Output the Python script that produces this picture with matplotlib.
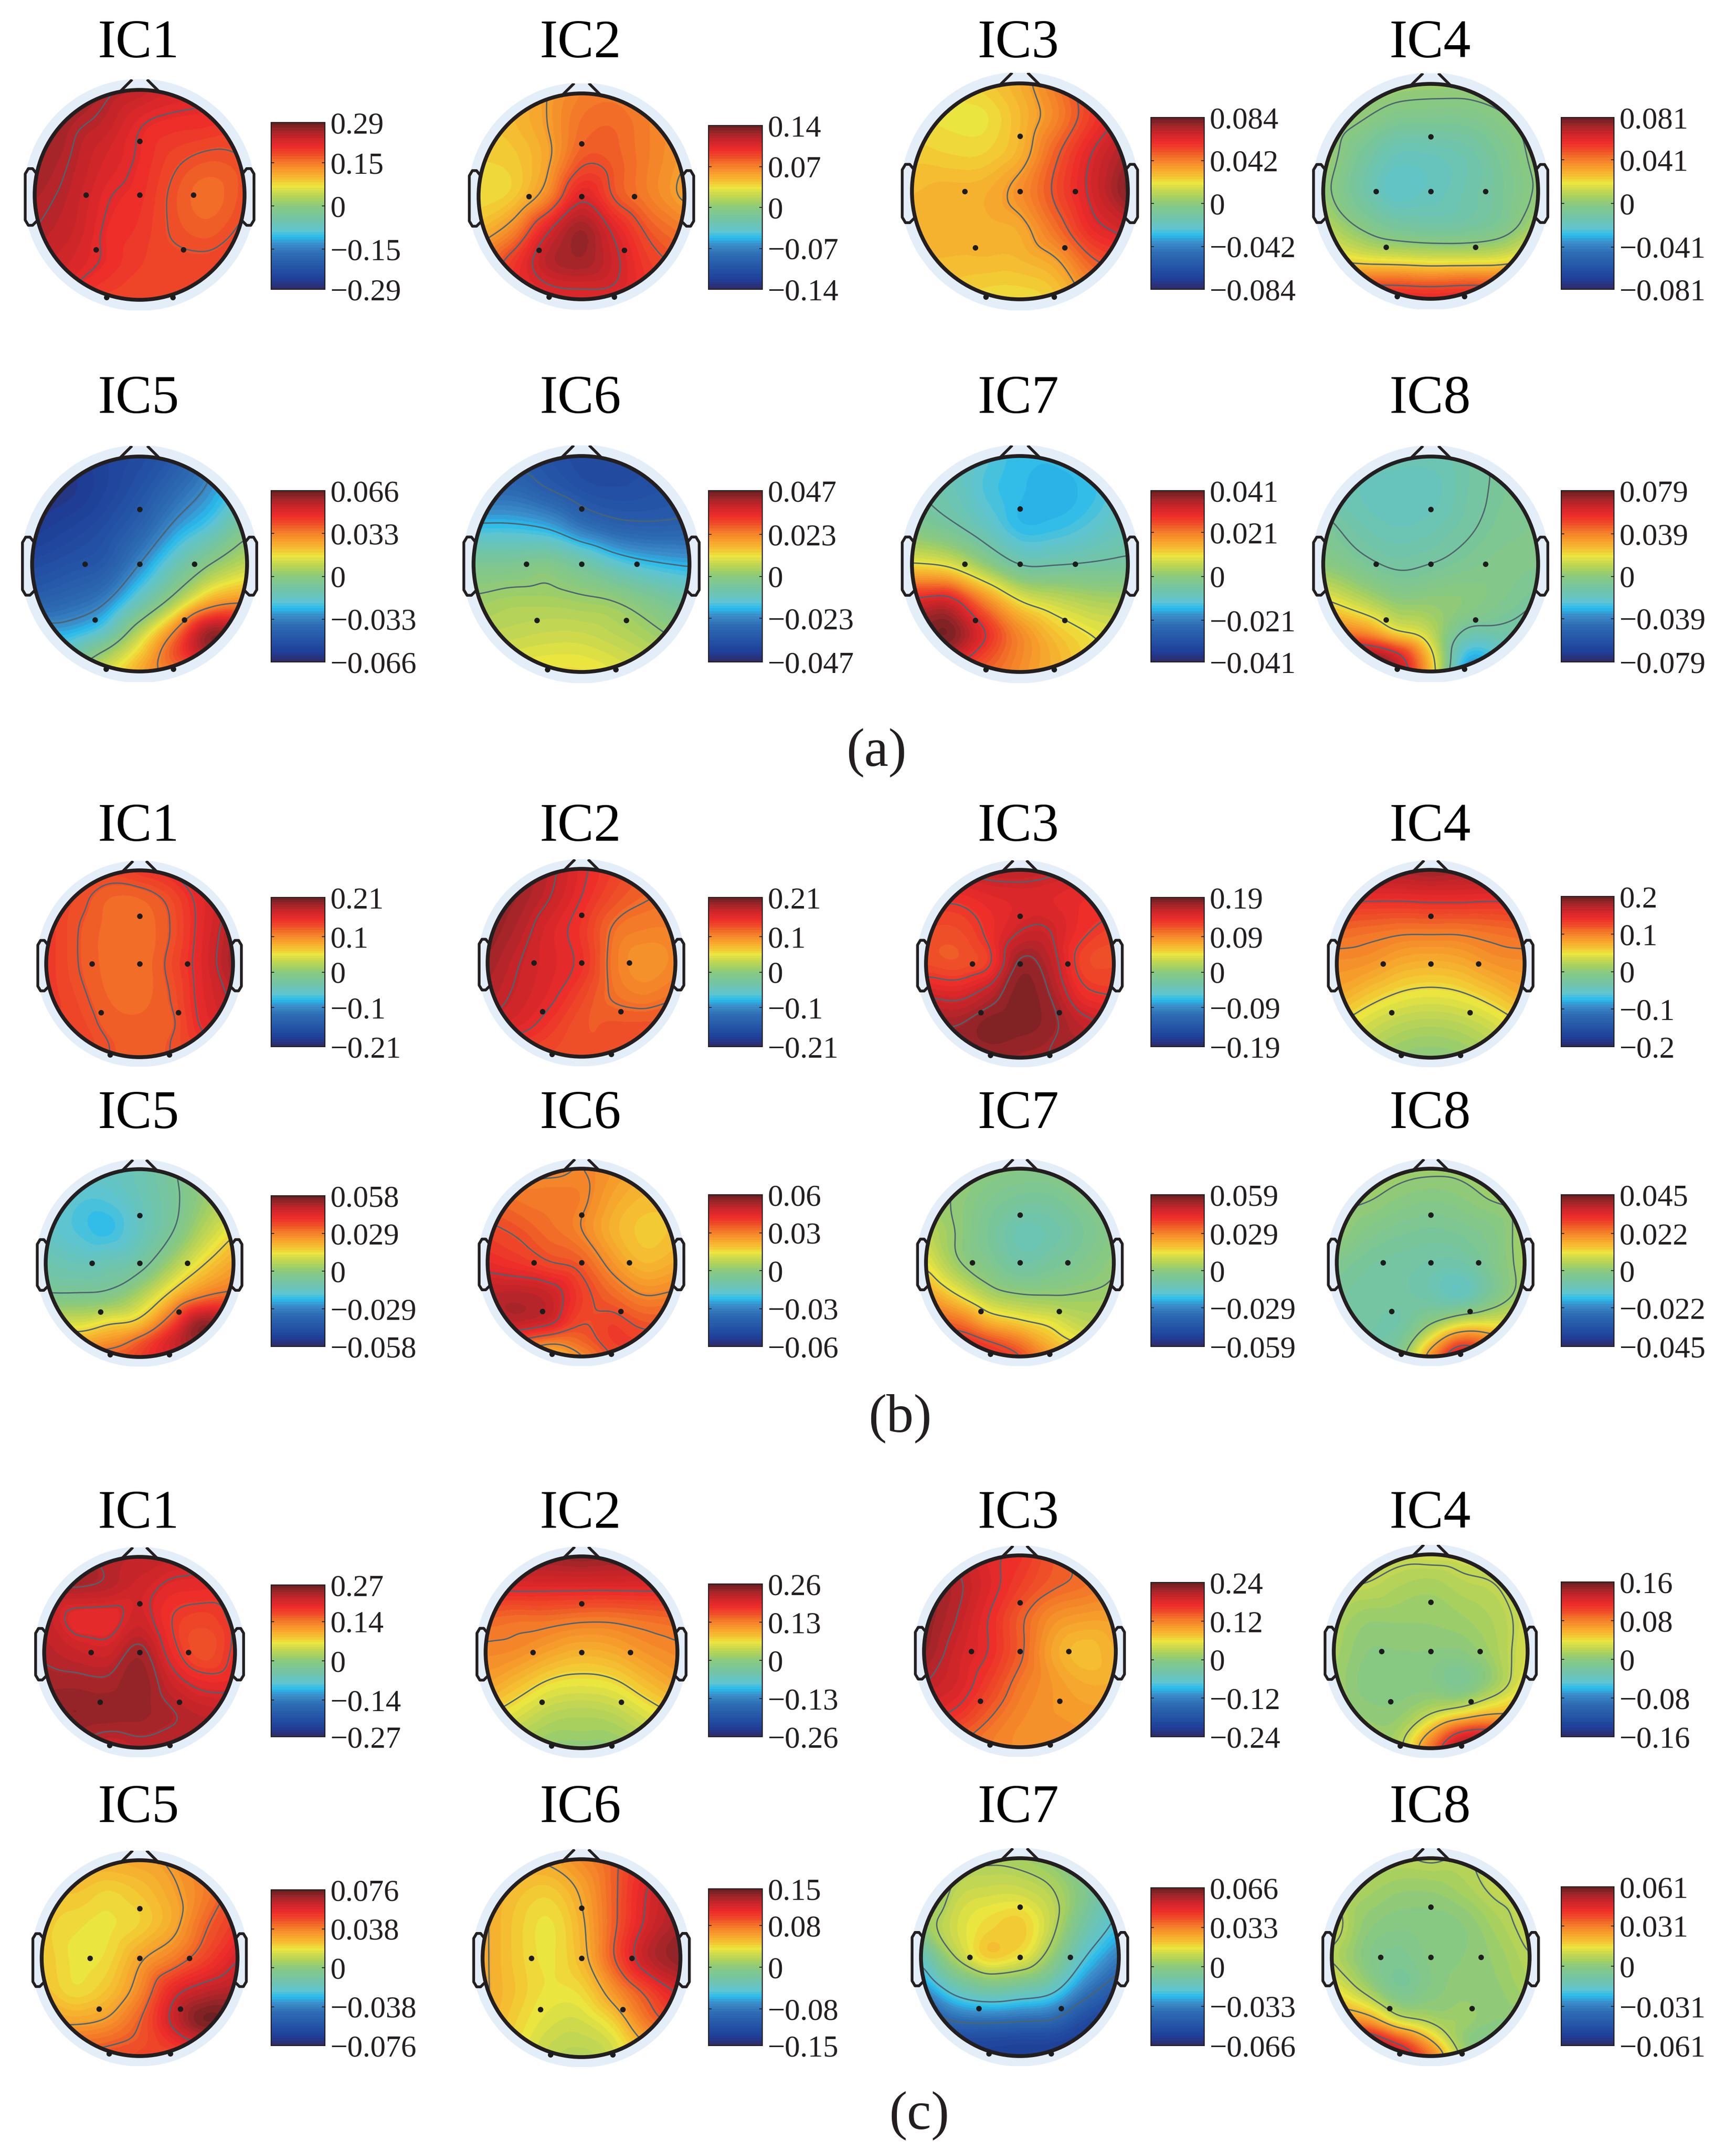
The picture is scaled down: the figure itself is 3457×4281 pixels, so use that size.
import numpy as np
import matplotlib
matplotlib.use('Agg')
import matplotlib.pyplot as plt
import matplotlib.tri as mtri
from matplotlib.cm import ScalarMappable
from matplotlib.colors import LinearSegmentedColormap, Normalize
from matplotlib.patches import Circle

plt.rcParams['font.family'] = ['Liberation Serif', 'DejaVu Serif']

# field samples, % of each panel's colorbar limit, rows top to bottom
grid_x = [-1, -0.66, -0.33, 0, 0.33, 0.66, 1]
grid_y = [1, 0.7, 0.35, 0, -0.35, -0.65, -0.85, -1]

a_ic1 = [[92,92,88,84,78,74,72],[92,88,84,74,71,70,68],[90,86,78,72,64,60,62],[88,84,74,70,60,54,61],
         [86,82,72,68,61,58,64],[84,78,72,66,64,64,66],[80,74,68,64,64,66,68],[78,70,64,63,64,66,68]]
a_ic2 = [[30,35,42,50,52,50,46],[30,34,42,54,56,50,44],[28,30,40,60,58,50,42],[26,30,48,76,60,50,40],
         [35,50,78,92,76,60,52],[50,68,86,90,80,66,60],[55,70,78,80,78,68,62],[60,66,72,74,74,68,62]]
a_ic3 = [[25,24,30,38,52,68,80],[26,24,24,34,48,66,80],[30,28,28,36,58,76,90],[34,36,37,46,62,78,96],
         [36,36,36,38,54,72,80],[34,34,34,34,40,58,66],[32,31,29,29,33,50,56],[30,29,26,25,30,45,50]]
a_ic4 = [[5,6,6,5,5,6,6],[8,2,-5,-6,-6,-1,6],[8,-10,-22,-22,-18,-8,4],[4,-14,-28,-24,-18,-10,2],
         [14,0,-10,-13,-12,-6,10],[30,26,24,22,22,24,34],[60,60,60,58,60,60,66],[75,75,74,74,74,75,75]]
a_ic5 = [[-90,-88,-85,-80,-70,-50,-30],[-95,-92,-85,-75,-60,-45,-25],[-90,-85,-78,-65,-45,-30,-5],[-80,-75,-70,-48,-22,0,14],
         [-65,-60,-50,-22,8,38,46],[-35,-38,-24,14,52,95,80],[-15,-20,6,30,62,85,72],[0,5,20,40,50,60,60]]
a_ic6 = [[-70,-72,-75,-80,-80,-78,-72],[-60,-60,-68,-76,-78,-76,-72],[-36,-36,-40,-55,-64,-66,-65],[-8,-8,-4,-14,-28,-36,-40],
         [5,8,8,6,3,-6,-15],[12,14,16,16,12,6,-2],[18,20,22,22,18,12,4],[22,24,26,26,22,16,8]]
a_ic7 = [[-22,-22,-30,-36,-37,-32,-25],[-15,-20,-32,-37,-38,-36,-26],[-5,-12,-24,-37,-36,-30,-22],[25,20,2,-16,-16,-14,-12],
         [76,80,50,25,16,10,8],[88,98,74,48,32,24,20],[75,84,64,48,36,26,22],[60,62,56,46,36,28,24]]
a_ic8 = [[-16,-18,-20,-20,-16,-10,-8],[-18,-22,-24,-24,-16,-10,-6],[-8,-18,-22,-20,-14,-8,-6],[0,-8,-14,-12,-8,-5,-6],
         [26,14,2,2,0,-6,-12],[55,50,28,14,-16,-16,-20],[85,95,80,30,-36,-30,-25],[90,100,90,35,-50,-40,-30]]

b_ic1 = [[62,62,64,68,72,76,82],[66,62,56,56,62,74,84],[68,60,55,54,60,74,88],[68,60,55,54,62,75,90],
         [68,62,56,55,60,74,84],[66,64,58,57,58,72,80],[66,66,60,58,60,68,76],[64,64,60,58,60,66,74]]
b_ic2 = [[94,90,84,74,66,60,58],[96,90,82,72,62,56,54],[94,86,76,68,54,50,50],[90,82,76,70,52,44,48],
         [86,80,74,64,54,50,54],[80,76,68,60,60,60,60],[72,68,64,60,60,62,60],[66,64,62,60,60,60,60]]
b_ic3 = [[84,84,84,84,82,78,76],[70,70,74,76,75,72,72],[62,62,70,80,80,70,64],[62,60,66,92,85,64,62],
         [80,78,86,96,90,72,68],[90,90,96,96,92,84,78],[90,92,94,92,90,88,84],[88,88,90,90,90,88,84]]
b_ic4 = [[88,90,90,92,90,90,88],[72,72,72,73,73,72,72],[56,54,52,52,52,54,56],[46,44,38,36,38,44,46],
         [38,30,24,22,24,30,38],[26,18,12,10,12,18,26],[22,12,6,4,6,12,22],[18,8,2,0,2,8,18]]
b_ic5 = [[-20,-22,-24,-20,-10,0,8],[-24,-30,-30,-22,-12,2,14],[-26,-32,-36,-24,-10,10,26],[-18,-22,-20,-14,6,26,40],
         [-6,-6,-4,10,32,50,56],[22,20,28,34,62,95,80],[45,40,46,60,80,90,78],[60,58,60,66,75,80,75]]
b_ic6 = [[48,46,46,48,44,40,40],[56,52,52,50,40,34,34],[64,60,54,48,36,30,32],[72,68,62,58,44,34,38],
         [85,86,82,66,56,48,50],[78,84,78,62,66,60,58],[66,58,50,56,66,66,64],[60,42,30,46,62,64,64]]
b_ic7 = [[5,2,0,-2,-2,0,4],[6,2,-6,-10,-10,-4,2],[14,2,-10,-20,-18,-10,-2],[24,4,-6,-16,-12,-6,2],
         [42,26,10,4,3,4,6],[55,56,38,30,24,14,10],[65,72,64,52,34,24,14],[70,76,72,64,44,30,20]]
b_ic8 = [[6,6,6,5,5,4,4],[6,4,0,-2,0,4,6],[4,-4,-8,-10,-8,-4,8],[-6,-12,-14,-16,-16,-6,8],
         [-12,-14,-15,-18,-24,-8,8],[-14,-15,-16,2,20,22,16],[-14,-16,-10,30,62,50,30],[-14,-15,-4,48,85,60,35]]

c_ic1 = [[88,88,86,84,82,78,76],[88,88,86,80,74,73,72],[84,72,72,80,68,64,70],[86,82,80,90,72,60,70],
         [90,90,89,94,82,74,74],[92,94,94,92,88,84,82],[90,90,86,88,86,88,86],[88,86,80,84,84,86,86]]
c_ic2 = [[88,90,92,94,92,90,88],[76,76,76,76,76,76,76],[56,54,54,52,52,54,56],[48,46,40,36,38,44,48],
         [40,32,24,22,24,32,40],[28,20,12,10,12,20,28],[22,12,6,6,6,12,22],[18,8,2,0,2,8,18]]
c_ic3 = [[88,80,74,70,60,52,48],[94,86,76,66,58,54,50],[94,84,72,58,46,42,42],[92,80,72,58,40,32,38],
         [84,78,66,52,44,38,38],[76,70,58,48,44,42,42],[66,60,52,46,46,44,44],[60,56,50,46,46,46,46]]
c_ic4 = [[15,16,17,18,18,18,20],[16,14,10,8,12,14,20],[10,4,4,4,6,10,18],[8,0,0,0,0,8,20],
         [6,-2,-2,-2,-8,6,24],[8,2,2,14,26,36,36],[10,6,8,40,72,74,50],[10,6,10,55,95,90,60]]
c_ic5 = [[36,36,38,40,44,50,58],[32,32,28,32,40,50,62],[30,26,24,28,38,56,68],[32,24,26,40,50,64,78],
         [34,26,32,48,74,84,88],[44,40,44,58,80,98,92],[50,54,56,60,70,80,76],[56,60,62,64,62,70,70]]
c_ic6 = [[40,36,40,48,58,68,76],[40,33,30,40,58,76,86],[40,30,24,36,58,78,90],[40,30,24,34,60,84,94],
         [40,31,24,26,44,62,78],[40,28,20,18,28,52,66],[36,26,16,14,20,40,54],[32,24,14,10,18,36,50]]
c_ic7 = [[-4,8,8,6,0,-15,-24],[-10,12,16,16,10,-6,-28],[2,18,26,30,14,-14,-34],[-26,10,30,24,2,-30,-52],
         [-52,-26,-16,-20,-28,-54,-72],[-72,-60,-58,-60,-62,-80,-88],[-82,-82,-82,-84,-84,-88,-90],[-85,-86,-86,-88,-88,-90,-90]]
c_ic8 = [[10,12,12,14,12,12,14],[12,8,4,4,8,14,16],[18,2,-2,-2,0,8,16],[12,-2,-8,-2,0,4,12],
         [26,10,-8,-2,2,2,8],[44,45,20,10,6,0,-2],[80,90,66,36,2,-6,-8],[90,100,90,55,8,-8,-10]]

fields = [a_ic1, a_ic2, a_ic3, a_ic4, a_ic5, a_ic6, a_ic7, a_ic8,
          b_ic1, b_ic2, b_ic3, b_ic4, b_ic5, b_ic6, b_ic7, b_ic8,
          c_ic1, c_ic2, c_ic3, c_ic4, c_ic5, c_ic6, c_ic7, c_ic8]

# contour levels, same % units
contour_levels = [[62,73,86],[42,62,78],[42,60,76],[0,30,62],[-48,0,48],[-68,-38,3],[-15,24,72],[-12,24,72],
                  [60,71,82],[55,72,82],[68,80,90],[26,50,70],[-8,28,52],[48,62,76],[3,26,62],[3,38,66],
                  [68,76,87],[27,50,72],[56,72,84],[14,36,66],[42,58,78],[38,60,76],[-60,-30,10],[12,34,70]]

# colorbar tick values (top, upper middle)
cbar_top = [0.29,0.14,0.084,0.081,0.066,0.047,0.041,0.079,
            0.21,0.21,0.19,0.2,0.058,0.06,0.059,0.045,
            0.27,0.26,0.24,0.16,0.076,0.15,0.066,0.061]
cbar_mid = [0.15,0.07,0.042,0.041,0.033,0.023,0.021,0.039,
            0.1,0.1,0.09,0.1,0.029,0.03,0.029,0.022,
            0.14,0.13,0.12,0.08,0.038,0.08,0.033,0.031]
titles = ['IC1','IC2','IC3','IC4','IC5','IC6','IC7','IC8']
section_labels = ['(a)','(b)','(c)']

# electrode positions on the head, unit radius
elec_x = [0,-0.51,0,0.51,-0.416,0.416,-0.315,0.315]
elec_y = [0.51,0,0,0,-0.52,-0.52,-0.975,-0.975]

W, H = 3457, 4281
col_x = [278,1158,2031,2849]
title_x = [275,1155,2027,2847]
title_base = [114,822,1674,2246,3042,3628]
head_y = [[388,391,381,381],[1123,1123,1123,1123],[1919,1917,1919,1919],[2515,2514,2514,2514],[3290,3290,3288,3288],[3899,3899,3897,3897]]
head_r = [[209,205,215,214],[214,215,215,214],[186,187,187,187],[187,187,187,187],[190,191,191,193],[195,197,197,197]]
bar_x = [(540,647),(1411,1518),(2292,2398),(3109,3214)]
bar_y = [[(244,576),(250,576),(234,576),(234,576)],[(977,1318)]*4,
         [(1787,2084),(1787,2084),(1787,2084),(1785,2084)],[(2381,2681),(2379,2681),(2379,2681),(2379,2681)],
         [(3156,3458),(3154,3458),(3151,3458),(3150,3458)],[(3763,4073),(3761,4073),(3759,4073),(3757,4073)]]
label_pos = [(1745,1499),(1792,2825),(1830,4213)]

cmap = LinearSegmentedColormap.from_list('topo', [
    (0.00,'#2d2d6b'),(0.05,'#1f3e97'),(0.11,'#2350a4'),(0.21,'#2e6db4'),(0.27,'#3b8fca'),
    (0.31,'#27bcee'),(0.35,'#5fc5d0'),(0.41,'#70c4ac'),(0.50,'#8ac97f'),(0.54,'#a9d15f'),
    (0.58,'#c8d84f'),(0.62,'#ebe63f'),(0.66,'#f5c232'),(0.71,'#f7a02c'),(0.77,'#f37528'),
    (0.81,'#ef4f28'),(0.86,'#ed2c2a'),(0.92,'#c6252a'),(0.96,'#9e2629'),(1.00,'#6f2022')], N=64)


def soften(a, width=25, passes=2):
    # plain moving average, takes the corners off the coarse sample grid
    k = np.ones(width)/width
    for axis in (0, 1):
        for _ in range(passes):
            pad = [(0, 0), (0, 0)]
            pad[axis] = (width, width)
            b = np.pad(a, pad, mode='edge')
            b = np.apply_along_axis(lambda v: np.convolve(v, k, mode='same'), axis, b)
            a = b[width:-width, :] if axis == 0 else b[:, width:-width]
    return a


fig = plt.figure(figsize=(W/100, H/100), dpi=100, facecolor='white')
INK = '#231f20'
xs, ys = np.meshgrid(grid_x, grid_y)
tri = mtri.Triangulation(xs.ravel(), ys.ravel())
xi, yi = np.meshgrid(np.linspace(-1, 1, 400), np.linspace(-1, 1, 400))

for i in range(24):
    row, col = i//4, i%4
    cx, cy, r = col_x[col], head_y[row][col], head_r[row][col]
    ax = fig.add_axes([(cx-1.15*r)/W, 1-(cy+1.10*r)/H, 2.3*r/W, 2.2*r/H])
    ax.set_xlim(-1.15, 1.15)
    ax.set_ylim(-1.10, 1.10)
    ax.axis('off')

    vmax = cbar_top[i]
    norm = Normalize(-vmax, vmax)
    z = np.array(fields[i], dtype=float)*vmax/100
    zi = mtri.CubicTriInterpolator(tri, z.ravel(), kind='geom')(xi, yi)
    zi = soften(np.ma.filled(zi, 0.0))

    ax.add_patch(Circle((0, 0), 1.105, fc='#e4eef9', ec='none', zorder=1))
    clip = Circle((0, 0), 1.0, transform=ax.transData)
    im = ax.imshow(zi, origin='lower', extent=(-1, 1, -1, 1), cmap=cmap, norm=norm,
                   interpolation='bilinear', zorder=2)
    im.set_clip_path(clip)
    cs = ax.contour(xi, yi, zi, levels=np.array(contour_levels[i])*vmax/100,
                    colors='#4c6470', linewidths=1.9, linestyles='solid', zorder=3)
    cs.set_clip_path(clip)

    # head outline, ears, nose
    ax.add_patch(Circle((0, 0), 1.0, fc='none', ec=INK, lw=5.5, zorder=5))
    for s in (-1, 1):
        ax.plot(s*np.array([0.98,1.02,1.06,1.09,1.09,1.06,1.02,0.98]), [0.2,0.25,0.25,0.2,-0.24,-0.29,-0.29,-0.25],
                color=INK, lw=4, solid_joinstyle='round', zorder=4)
        ax.plot(s*np.array([0.19,0.08]), [0.98,1.09], color=INK, lw=4, zorder=4)
    ax.scatter(elec_x, elec_y, s=62, color='#1c1c1c', lw=0, zorder=6, clip_on=False)

    # colorbar
    x0, x1 = bar_x[col]
    y0, y1 = bar_y[row][col]
    cax = fig.add_axes([x0/W, 1-y1/H, (x1-x0)/W, (y1-y0)/H])
    sm = ScalarMappable(norm=norm, cmap=cmap)
    cb = fig.colorbar(sm, cax=cax)
    m = cbar_mid[i]
    ticks = [-vmax, -m, 0, m, vmax]
    cb.set_ticks(ticks, labels=[f'{t:g}'.replace('-', '\u2212') for t in ticks])
    cb.outline.set_linewidth(1.5)
    cb.outline.set_edgecolor(INK)
    cax.tick_params(labelsize=44, length=4, width=1.2, direction='in', left=True, right=True,
                    pad=8, colors=INK)

    fig.text(title_x[col]/W, 1-title_base[row]/H, titles[i%8], fontsize=78, ha='center', va='baseline', color='black')

for s, (lx, ly) in zip(section_labels, label_pos):
    fig.text(lx/W, 1-ly/H, s, fontsize=78, ha='center', va='center', color=INK)

fig.savefig('out.png', dpi=100)
